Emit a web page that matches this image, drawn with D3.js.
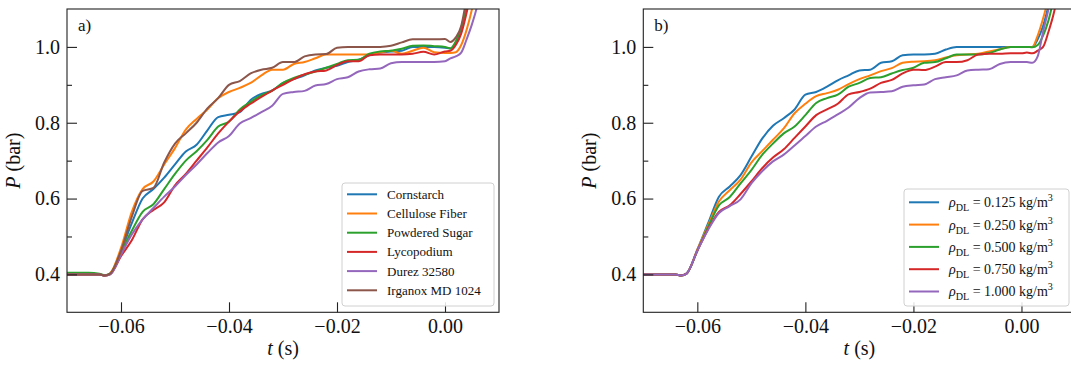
<!DOCTYPE html>
<html>
<head>
<meta charset="utf-8">
<script src="https://cdn.jsdelivr.net/npm/d3@7"></script>
<style>
  body { margin: 0; background: #fff; }
  svg { display: block; font-family: "Liberation Serif", "Times New Roman", serif; }
</style>
</head>
<body>
<div id="container"></div>
<script>
// time samples shared by every curve (s)
const times = [-0.070, -0.066, -0.064, -0.063, -0.062,
    -0.060, -0.058, -0.056, -0.054, -0.052, -0.050, -0.048, -0.046, -0.044, -0.042,
    -0.040, -0.038, -0.036, -0.034, -0.032, -0.030, -0.028, -0.026, -0.024, -0.022,
    -0.020, -0.018, -0.016, -0.014, -0.012, -0.010, -0.008, -0.006, -0.004, -0.002,
    0.000, 0.001, 0.002, 0.003, 0.004, 0.005, 0.006, 0.007, 0.008];

// panel a) dust types, P in bar
const materials = ["Cornstarch", "Cellulose Fiber", "Powdered Sugar", "Lycopodium", "Durez 32580", "Irganox MD 1024"];
const cornstarch = [0.400, 0.400, 0.400, 0.397, 0.402, 0.462, 0.535, 0.600, 0.625, 0.655, 0.690, 0.724, 0.742, 0.780, 0.815,
    0.821, 0.828, 0.860, 0.876, 0.885, 0.905, 0.915, 0.925, 0.938, 0.945, 0.950, 0.960, 0.966, 0.978, 0.985,
    0.988, 0.990, 1.000, 1.000, 1.000, 0.998, 0.996, 1.010, 1.050, 1.110, 1.180, 1.260, 1.340, 1.420];
const cellulose = [0.400, 0.400, 0.400, 0.397, 0.403, 0.470, 0.565, 0.625, 0.645, 0.690, 0.733, 0.782, 0.810, 0.835, 0.865,
    0.881, 0.892, 0.905, 0.925, 0.940, 0.940, 0.955, 0.960, 0.970, 0.980, 0.980, 0.980, 0.980, 0.980, 0.985,
    0.990, 0.982, 0.990, 0.998, 0.986, 0.984, 0.984, 0.986, 1.005, 1.045, 1.100, 1.170, 1.250, 1.330];
const sugar = [0.404, 0.404, 0.402, 0.398, 0.402, 0.458, 0.515, 0.565, 0.585, 0.625, 0.665, 0.700, 0.725, 0.755, 0.790,
    0.803, 0.835, 0.855, 0.872, 0.885, 0.905, 0.918, 0.927, 0.935, 0.945, 0.955, 0.965, 0.966, 0.982, 0.988,
    0.990, 0.995, 1.003, 1.004, 1.002, 1.000, 0.996, 1.015, 1.050, 1.105, 1.170, 1.250, 1.330, 1.410];
const lycopodium = [0.400, 0.400, 0.400, 0.397, 0.400, 0.448, 0.490, 0.545, 0.570, 0.590, 0.635, 0.665, 0.700, 0.735, 0.772,
    0.803, 0.830, 0.850, 0.868, 0.885, 0.900, 0.915, 0.928, 0.935, 0.938, 0.952, 0.962, 0.962, 0.978, 0.980,
    0.980, 0.980, 0.982, 0.987, 0.980, 0.988, 0.990, 1.005, 1.035, 1.090, 1.160, 1.240, 1.320, 1.400];
const durez = [0.400, 0.400, 0.400, 0.397, 0.400, 0.452, 0.505, 0.545, 0.575, 0.605, 0.632, 0.662, 0.690, 0.720, 0.748,
    0.765, 0.798, 0.812, 0.828, 0.845, 0.876, 0.881, 0.884, 0.898, 0.902, 0.915, 0.920, 0.935, 0.941, 0.943,
    0.957, 0.960, 0.960, 0.960, 0.960, 0.962, 0.970, 0.975, 0.985, 1.020, 1.060, 1.110, 1.180, 1.260];
const irganox = [0.400, 0.400, 0.400, 0.397, 0.402, 0.462, 0.552, 0.620, 0.628, 0.695, 0.745, 0.772, 0.800, 0.838, 0.865,
    0.900, 0.910, 0.930, 0.940, 0.945, 0.960, 0.960, 0.975, 0.980, 0.981, 0.998, 1.000, 1.000, 1.000, 1.000,
    1.003, 1.012, 1.020, 1.020, 1.020, 1.021, 1.013, 1.025, 1.055, 1.130, 1.220, 1.300, 1.380, 1.460];

// panel b) dust densities (kg/m3), P in bar
const densities = ["0.125", "0.250", "0.500", "0.750", "1.000"];
const rho0125 = [0.400, 0.400, 0.400, 0.397, 0.402, 0.465, 0.535, 0.605, 0.632, 0.662, 0.710, 0.758, 0.792, 0.812, 0.835,
    0.874, 0.881, 0.895, 0.912, 0.925, 0.938, 0.940, 0.958, 0.962, 0.978, 0.980, 0.980, 0.982, 0.993, 1.000,
    1.000, 1.000, 1.000, 1.000, 1.000, 1.000, 1.000, 1.000, 1.020, 1.055, 1.110, 1.180, 1.260, 1.340];
const rho0250 = [0.400, 0.400, 0.400, 0.397, 0.402, 0.465, 0.530, 0.592, 0.622, 0.650, 0.695, 0.725, 0.755, 0.785, 0.825,
    0.850, 0.870, 0.878, 0.887, 0.902, 0.915, 0.925, 0.936, 0.944, 0.958, 0.961, 0.962, 0.965, 0.972, 0.978,
    0.980, 0.982, 0.988, 0.994, 1.000, 1.000, 1.000, 1.000, 1.030, 1.075, 1.130, 1.200, 1.280, 1.360];
const rho0500 = [0.400, 0.400, 0.400, 0.397, 0.402, 0.462, 0.525, 0.582, 0.604, 0.640, 0.675, 0.715, 0.745, 0.772, 0.790,
    0.820, 0.852, 0.865, 0.874, 0.895, 0.905, 0.918, 0.920, 0.930, 0.939, 0.945, 0.958, 0.960, 0.970, 0.980,
    0.980, 0.980, 0.984, 0.993, 1.000, 1.000, 1.000, 0.999, 1.005, 1.030, 1.070, 1.130, 1.200, 1.280];
const rho0750 = [0.400, 0.400, 0.400, 0.397, 0.402, 0.462, 0.520, 0.565, 0.582, 0.612, 0.645, 0.680, 0.708, 0.730, 0.760,
    0.790, 0.820, 0.835, 0.850, 0.875, 0.881, 0.890, 0.905, 0.913, 0.930, 0.940, 0.939, 0.948, 0.960, 0.960,
    0.965, 0.980, 0.982, 0.982, 0.983, 0.983, 0.985, 0.983, 0.990, 1.000, 1.040, 1.090, 1.160, 1.240];
const rho1000 = [0.400, 0.400, 0.400, 0.397, 0.402, 0.462, 0.518, 0.562, 0.580, 0.598, 0.640, 0.672, 0.698, 0.716, 0.740,
    0.765, 0.790, 0.805, 0.822, 0.840, 0.865, 0.880, 0.881, 0.883, 0.895, 0.899, 0.901, 0.915, 0.920, 0.925,
    0.938, 0.940, 0.941, 0.955, 0.960, 0.960, 0.960, 0.958, 0.975, 1.040, 1.100, 1.180, 1.260, 1.340];

const xTicks = [-0.06, -0.04, -0.02, 0.00];
const yTicks = [0.4, 0.6, 0.8, 1.0];
const yMinorTicks = [0.5, 0.7, 0.9];

const colors = ["#1f77b4", "#ff7f0e", "#2ca02c", "#d62728", "#9467bd", "#8c564b"];

const width = 1071,
    height = 365,
    plot = {
        top: 9,
        bottom: 312.3
    };

const panels = [
    {
        tag: "a)",
        left: 67,
        right: 499,
        series: [cornstarch, cellulose, sugar, lycopodium, durez, irganox],
        labels: materials,
        legend: {x: 342, y: 183, w: 152, h: 123, row: 19.2, first: 11.3, size: 13}
    },
    {
        tag: "b)",
        left: 643.3,
        right: 1075.5,
        series: [rho0125, rho0250, rho0500, rho0750, rho1000],
        labels: densities,
        legend: {x: 904, y: 189, w: 165, h: 117, row: 22.3, first: 13.3, size: 14}
    }
];

var svg = d3.select("#container").append("svg")
    .attr("width", width)
    .attr("height", height);

panels.forEach(drawPanel);

function drawPanel(p, idx) {
    var x = d3.scaleLinear()
        .domain([-0.07, 0.01])
        .range([p.left, p.right]);

    var y = d3.scaleLinear()
        .domain([0.3, 1.1])
        .range([plot.bottom, plot.top]);

    var g = svg.append("g");

    // clip the curves to the axes box
    g.append("clipPath")
        .attr("id", "clip" + idx)
        .append("rect")
        .attr("x", p.left)
        .attr("y", plot.top)
        .attr("width", p.right - p.left)
        .attr("height", plot.bottom - plot.top);

    var line = d3.line()
        .x(function(d) { return x(d[0]); })
        .y(function(d) { return y(d[1]); })
        .curve(d3.curveMonotoneX);

    g.append("g")
        .attr("clip-path", "url(#clip" + idx + ")")
        .selectAll("path")
        .data(p.series)
        .enter()
        .append("path")
        .attr("fill", "none")
        .attr("stroke", function(d, i) { return colors[i]; })
        .attr("stroke-width", 2)
        .attr("stroke-linejoin", "round")
        .attr("d", function(vals) {
            return line(times.map(function(t, i) { return [t, vals[i]]; }));
        });

    // x-axis, ticks pointing in
    var xAxis = g.append("g")
        .attr("transform", `translate(0, ${plot.bottom})`)
        .call(d3.axisBottom(x)
            .tickValues(xTicks)
            .tickFormat(d3.format(".2f"))
            .tickSizeInner(-10)
            .tickSizeOuter(0)
            .tickPadding(7));

    // y-axis, major and minor
    var yAxis = g.append("g")
        .attr("transform", `translate(${p.left}, 0)`)
        .call(d3.axisLeft(y)
            .tickValues(yTicks)
            .tickFormat(d3.format(".1f"))
            .tickSizeInner(-10)
            .tickSizeOuter(0)
            .tickPadding(7));

    var yMinor = g.append("g")
        .attr("transform", `translate(${p.left}, 0)`)
        .call(d3.axisLeft(y)
            .tickValues(yMinorTicks)
            .tickFormat("")
            .tickSizeInner(-5)
            .tickSizeOuter(0));

    [xAxis, yAxis, yMinor].forEach(function(a) {
        a.select(".domain").remove();
        a.selectAll("line").attr("stroke", "#222").attr("stroke-width", 1.1);
        a.selectAll("text")
            .attr("font-family", "'Liberation Serif', 'Times New Roman', serif")
            .attr("font-size", 20)
            .attr("fill", "#111");
    });

    // frame
    g.append("rect")
        .attr("x", p.left)
        .attr("y", plot.top)
        .attr("width", p.right - p.left)
        .attr("height", plot.bottom - plot.top)
        .attr("fill", "none")
        .attr("stroke", "#222")
        .attr("stroke-width", 1.1);

    // axis titles
    var xt = g.append("text")
        .attr("x", (p.left + p.right) / 2)
        .attr("y", 355)
        .attr("text-anchor", "middle")
        .attr("font-size", 20)
        .attr("fill", "#111");
    xt.append("tspan").attr("font-style", "italic").text("t");
    xt.append("tspan").text(" (s)");

    var yt = g.append("text")
        .attr("transform", `translate(${p.left - 47}, ${(plot.top + plot.bottom) / 2}) rotate(-90)`)
        .attr("text-anchor", "middle")
        .attr("font-size", 20)
        .attr("fill", "#111");
    yt.append("tspan").attr("font-style", "italic").text("P");
    yt.append("tspan").text(" (bar)");

    g.append("text")
        .attr("x", p.left + 11)
        .attr("y", 31)
        .attr("font-size", 17)
        .attr("fill", "#111")
        .text(p.tag);

    drawLegend(g, p, idx);
}

function drawLegend(g, p, idx) {
    var L = p.legend;
    var lg = g.append("g");

    lg.append("rect")
        .attr("x", L.x)
        .attr("y", L.y)
        .attr("width", L.w)
        .attr("height", L.h)
        .attr("rx", 3)
        .attr("fill", "rgba(255,255,255,0.85)")
        .attr("stroke", "#d0d0d0")
        .attr("stroke-width", 1);

    var rows = lg.selectAll("g.row")
        .data(p.labels)
        .enter()
        .append("g")
        .attr("class", "row")
        .attr("transform", function(d, i) {
            return `translate(${L.x}, ${L.y + L.first + i * L.row})`;
        });

    rows.append("line")
        .attr("x1", 5)
        .attr("x2", 35)
        .attr("stroke", function(d, i) { return colors[i]; })
        .attr("stroke-width", 2);

    var txt = rows.append("text")
        .attr("x", 45)
        .attr("dy", "0.35em")
        .attr("font-size", L.size)
        .attr("fill", "#111");

    if (idx === 0) {
        txt.text(function(d) { return d; });
    } else {
        txt.append("tspan").attr("font-style", "italic").text("ρ");
        txt.append("tspan").attr("font-size", L.size * 0.72).attr("dy", 4).text("DL");
        txt.append("tspan").attr("dy", -4).text(" =  ");
        txt.append("tspan").text(function(d) { return d + " kg/m"; });
        txt.append("tspan").attr("font-size", L.size * 0.72).attr("dy", -6).text("3");
    }
}
</script>
</body>
</html>
